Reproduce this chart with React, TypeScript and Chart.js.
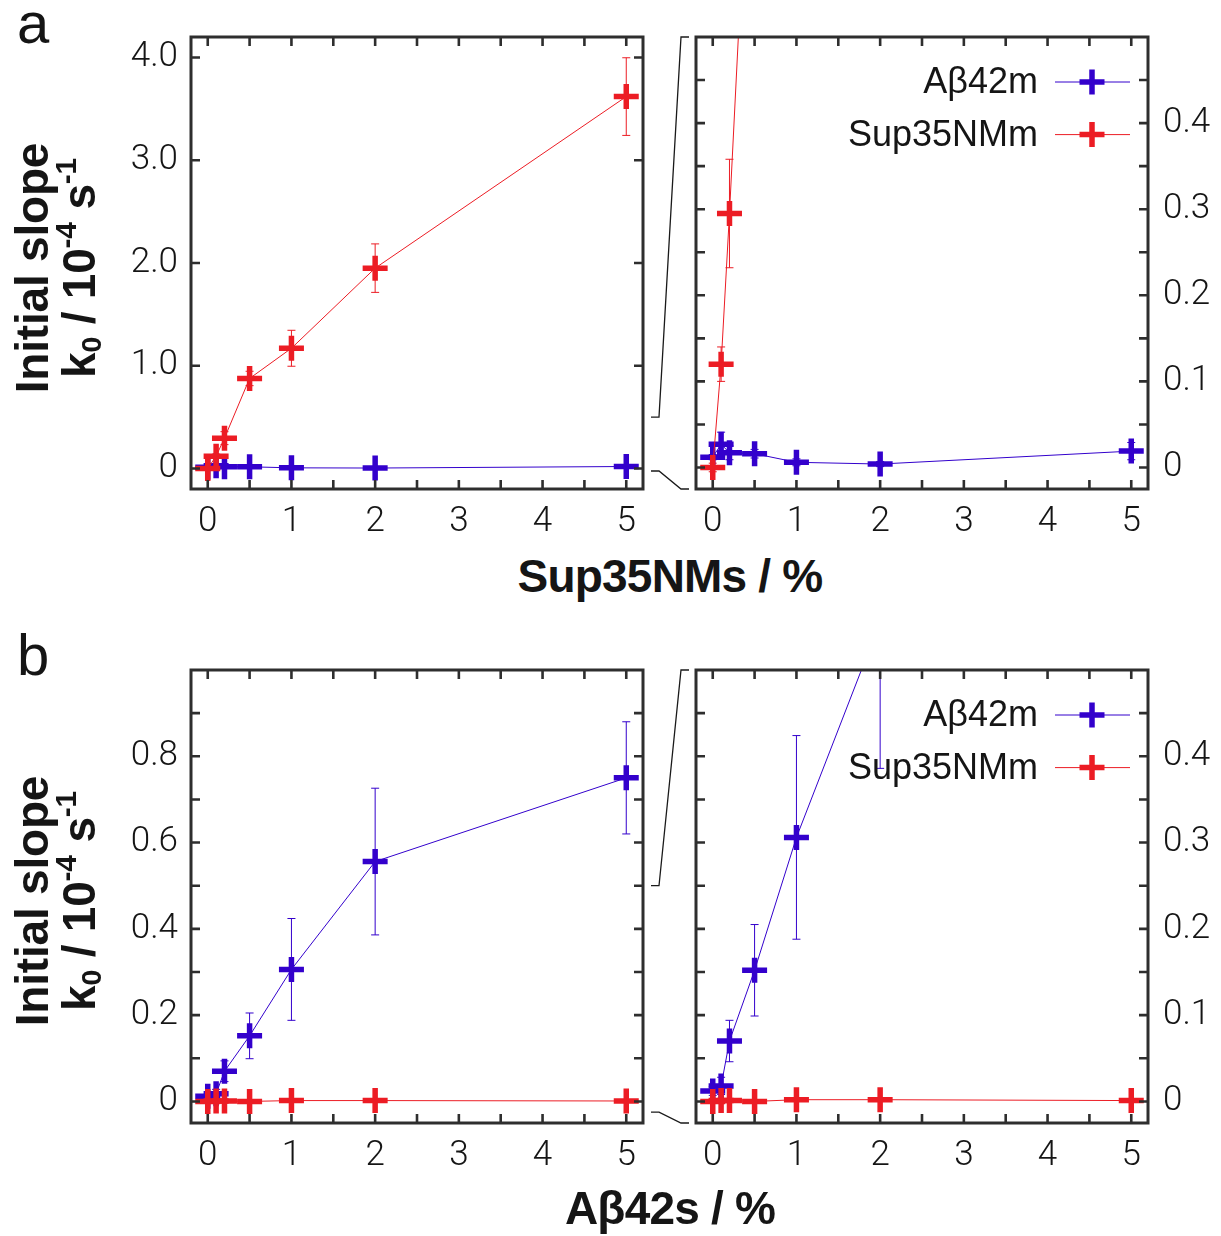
import React, { useEffect, useRef } from 'react';
import { Chart, registerables } from 'chart.js';
Chart.register(...registerables);

// ---------------- data ----------------
const concentrations = [0, 0.1, 0.2, 0.5, 1, 2, 5];
const seriesNames = ['Aβ42m', 'Sup35NMm'];

// panel a: seeds = Sup35NMs
const aAbeta42m = [0.012, 0.027, 0.017, 0.016, 0.006, 0.004, 0.019];
const aAbeta42mErr = [0.003, 0.014, 0.008, 0.005, 0.004, 0.003, 0.01];
const aSup35NMm = [0.0, 0.12, 0.295, 0.876, 1.17, 1.95, 3.62];
const aSup35NMmErr = [0.005, 0.02, 0.063, 0.07, 0.175, 0.236, 0.378];

// panel b: seeds = Aβ42s
const bAbeta42m = [0.012, 0.018, 0.07, 0.152, 0.306, 0.556, 0.75];
const bAbeta42mErr = [0.005, 0.01, 0.024, 0.053, 0.118, 0.17, 0.13];
const bSup35NMm = [0.0, 0.001, 0.001, 0.0, 0.002, 0.002, 0.001];
const bSup35NMmErr = [0.002, 0.002, 0.002, 0.002, 0.002, 0.002, 0.002];

// ticks
const xTickMarks = [0, 0.5, 1, 1.5, 2, 2.5, 3, 3.5, 4, 4.5, 5];
const xLabelValues = [0, 1, 2, 3, 4, 5];
const xLabels = ['0', '1', '2', '3', '4', '5'];

const aLeftYTickMarks = [0, 1, 2, 3, 4];
const aLeftYLabelValues = [0, 1, 2, 3, 4];
const aLeftYLabels = ['0', '1.0', '2.0', '3.0', '4.0'];

const bLeftYTickMarks = [0, 0.1, 0.2, 0.3, 0.4, 0.5, 0.6, 0.7, 0.8, 0.9];
const bLeftYLabelValues = [0, 0.2, 0.4, 0.6, 0.8];
const bLeftYLabels = ['0', '0.2', '0.4', '0.6', '0.8'];

const zoomYTickMarks = [0, 0.05, 0.1, 0.15, 0.2, 0.25, 0.3, 0.35, 0.4, 0.45];
const zoomYLabelValues = [0, 0.1, 0.2, 0.3, 0.4];
const zoomYLabels = ['0', '0.1', '0.2', '0.3', '0.4'];

const X_RANGE = [-0.2, 5.2];
const A_LEFT_Y = [-0.2, 4.2];
const B_LEFT_Y = [-0.05, 1.0];
const ZOOM_Y = [-0.025, 0.5];

// ---------------- styles ----------------
const BLUE = '#3300cc';
const RED = '#ec1c24';
const FRAME = '#2e2e2e';
const TEXT = '#151515';
const TICK_FONT = { family: 'Roboto, "Liberation Sans", Arial, sans-serif', size: 35, weight: '300' as any };
const TICK_LEN = 9;
const MARK_R = 12.5;
const MARK_W = 5.5;

type Series = { label: string; color: string; values: number[]; errors: number[]; order: number };

type PanelProps = {
  rect: [number, number, number, number];
  area: [number, number, number, number];
  side: 'left' | 'right';
  yRange: number[];
  yMarks: number[];
  yLabelValues: number[];
  yLabels: string[];
  series: Series[];
  legend?: boolean;
  zoom?: number[];
};

function labelFor(v: number, vals: number[], labels: string[]) {
  for (let i = 0; i < vals.length; i++) if (Math.abs(vals[i] - v) < 1e-9) return labels[i];
  return '';
}

const frameTicksPlugin = {
  id: 'frameTicks',
  afterDatasetsDraw(chart: any) {
    const { ctx, chartArea: a, scales } = chart;
    ctx.save();
    ctx.strokeStyle = FRAME;
    ctx.lineWidth = 2.6;
    ctx.beginPath();
    for (const t of scales.x.ticks) {
      const px = scales.x.getPixelForValue(t.value);
      ctx.moveTo(px, a.bottom);
      ctx.lineTo(px, a.bottom - TICK_LEN);
      ctx.moveTo(px, a.top);
      ctx.lineTo(px, a.top + TICK_LEN);
    }
    for (const t of scales.y.ticks) {
      const py = scales.y.getPixelForValue(t.value);
      ctx.moveTo(a.left, py);
      ctx.lineTo(a.left + TICK_LEN, py);
      ctx.moveTo(a.right, py);
      ctx.lineTo(a.right - TICK_LEN, py);
    }
    ctx.stroke();
    ctx.lineWidth = 3;
    ctx.strokeRect(a.left, a.top, a.right - a.left, a.bottom - a.top);
    ctx.restore();
  },
};

const errorBarsPlugin = {
  id: 'errorBars',
  beforeDatasetsDraw(chart: any) {
    const { ctx, chartArea: a, scales } = chart;
    ctx.save();
    ctx.beginPath();
    ctx.rect(a.left, a.top, a.right - a.left, a.bottom - a.top);
    ctx.clip();
    ctx.lineWidth = 1;
    chart.data.datasets.forEach((ds: any) => {
      ctx.strokeStyle = ds.borderColor;
      ctx.beginPath();
      ds.data.forEach((p: any, i: number) => {
        const e = ds.errors[i];
        const x = scales.x.getPixelForValue(p.x);
        const y1 = scales.y.getPixelForValue(p.y - e);
        const y2 = scales.y.getPixelForValue(p.y + e);
        ctx.moveTo(x, y1);
        ctx.lineTo(x, y2);
        ctx.moveTo(x - 4, y1);
        ctx.lineTo(x + 4, y1);
        ctx.moveTo(x - 4, y2);
        ctx.lineTo(x + 4, y2);
      });
      ctx.stroke();
    });
    ctx.restore();
  },
};

const legendPlugin = {
  id: 'gpLegend',
  afterDraw(chart: any) {
    const opts = chart.options.plugins.gpLegend;
    if (!opts || !opts.show) return;
    const { ctx, chartArea: a } = chart;
    ctx.save();
    ctx.font = '36px "Liberation Sans", Arial, sans-serif';
    ctx.textAlign = 'right';
    ctx.textBaseline = 'middle';
    chart.data.datasets.forEach((ds: any, i: number) => {
      const y = a.top + 45 + i * 52.6;
      ctx.fillStyle = TEXT;
      ctx.fillText(ds.label, a.right - 110, y + 1);
      ctx.strokeStyle = ds.borderColor;
      ctx.lineWidth = 1;
      ctx.beginPath();
      ctx.moveTo(a.right - 93, y);
      ctx.lineTo(a.right - 18, y);
      ctx.stroke();
      const cx = a.right - 56;
      ctx.lineWidth = MARK_W;
      ctx.beginPath();
      ctx.moveTo(cx - MARK_R, y);
      ctx.lineTo(cx + MARK_R, y);
      ctx.moveTo(cx, y - MARK_R);
      ctx.lineTo(cx, y + MARK_R);
      ctx.stroke();
    });
    ctx.restore();
  },
};

const zoomLinesPlugin = {
  id: 'zoomLines',
  afterDraw(chart: any) {
    const z = chart.options.plugins.zoomLines;
    if (!z || !z.range) return;
    const { ctx, chartArea: a, scales } = chart;
    const yTop = scales.y.getPixelForValue(z.range[1]);
    const yBot = scales.y.getPixelForValue(z.range[0]);
    const r = a.right;
    ctx.save();
    ctx.strokeStyle = '#1a1a1a';
    ctx.lineWidth = 1.3;
    ctx.beginPath();
    ctx.moveTo(r + 8, yTop);
    ctx.lineTo(r + 16, yTop);
    ctx.lineTo(r + 38, a.top);
    ctx.lineTo(r + 46, a.top);
    ctx.moveTo(r + 8, yBot);
    ctx.lineTo(r + 16, yBot);
    ctx.lineTo(r + 38, a.bottom);
    ctx.lineTo(r + 46, a.bottom);
    ctx.stroke();
    ctx.restore();
  },
};

function Panel(props: PanelProps) {
  const ref = useRef<HTMLCanvasElement | null>(null);
  const { rect, area, side } = props;
  useEffect(() => {
    if (!ref.current) return;
    const [L, T, W, H] = rect;
    const [al, at, ar, ab] = area;
    const yAxisWidth = side === 'left' ? al - L : L + W - ar;
    const xAxisHeight = T + H - ab;
    const padding =
      side === 'left'
        ? { left: 0, right: L + W - ar, top: at - T, bottom: 0 }
        : { left: al - L, right: 0, top: at - T, bottom: 0 };

    const datasets = props.series.map((s) => ({
      label: s.label,
      data: concentrations.map((x, i) => ({ x, y: s.values[i] })),
      errors: s.errors,
      borderColor: s.color,
      backgroundColor: s.color,
      borderWidth: 1,
      pointStyle: 'cross',
      pointRadius: MARK_R,
      pointBorderWidth: MARK_W,
      pointBorderColor: s.color,
      pointBackgroundColor: s.color,
      tension: 0,
      order: s.order,
    }));

    const chart = new Chart(ref.current, {
      type: 'line',
      data: { datasets } as any,
      options: {
        responsive: false,
        animation: false,
        devicePixelRatio: 1,
        events: [],
        layout: { padding },
        plugins: {
          legend: { display: false },
          tooltip: { enabled: false },
          gpLegend: { show: !!props.legend },
          zoomLines: { range: props.zoom },
        } as any,
        scales: {
          x: {
            type: 'linear',
            min: X_RANGE[0],
            max: X_RANGE[1],
            grid: { display: false, drawTicks: false },
            border: { display: false },
            afterBuildTicks: (s: any) => {
              s.ticks = xTickMarks.map((v) => ({ value: v }));
            },
            afterFit: (s: any) => {
              s.height = xAxisHeight;
            },
            ticks: {
              autoSkip: false,
              maxRotation: 0,
              minRotation: 0,
              padding: 12,
              color: TEXT,
              font: TICK_FONT,
              callback: (v: any) => labelFor(Number(v), xLabelValues, xLabels),
            },
          },
          y: {
            type: 'linear',
            position: side,
            min: props.yRange[0],
            max: props.yRange[1],
            grid: { display: false, drawTicks: false },
            border: { display: false },
            afterBuildTicks: (s: any) => {
              s.ticks = props.yMarks.map((v) => ({ value: v }));
            },
            afterFit: (s: any) => {
              s.width = yAxisWidth;
            },
            ticks: {
              autoSkip: false,
              padding: side === 'left' ? 13 : 15,
              color: TEXT,
              font: TICK_FONT,
              callback: (v: any) => labelFor(Number(v), props.yLabelValues, props.yLabels),
            },
          },
        } as any,
      },
      plugins: [errorBarsPlugin, frameTicksPlugin, legendPlugin, zoomLinesPlugin],
    });
    return () => chart.destroy();
  }, []);
  return (
    <canvas
      ref={ref}
      width={rect[2]}
      height={rect[3]}
      style={{ position: 'absolute', left: rect[0], top: rect[1], width: rect[2], height: rect[3] }}
    />
  );
}

const titleFont = '"Liberation Sans", Arial, Helvetica, sans-serif';
const supStyle: React.CSSProperties = { fontSize: '0.65em', verticalAlign: '0.62em', lineHeight: 0 };
const subStyle: React.CSSProperties = { fontSize: '0.62em', verticalAlign: '-0.22em', lineHeight: 0 };

function YTitle({ cy }: { cy: number }) {
  const cx = 56;
  return (
    <div
      style={{
        position: 'absolute',
        left: cx - 170,
        top: cy - 47,
        width: 340,
        height: 94,
        transform: 'rotate(-90deg)',
        transformOrigin: '50% 50%',
        fontFamily: titleFont,
        fontWeight: 'bold',
        fontSize: 46,
        lineHeight: '47px',
        textAlign: 'center',
        color: TEXT,
        whiteSpace: 'nowrap',
        letterSpacing: '-0.2px',
      }}
    >
      <div>Initial slope</div>
      <div>
        k<sub style={subStyle}>0</sub> / 10<sup style={supStyle}>-4</sup> s<sup style={supStyle}>-1</sup>
      </div>
    </div>
  );
}

function XTitle({ top, children }: { top: number; children: React.ReactNode }) {
  return (
    <div
      style={{
        position: 'absolute',
        left: 170,
        top,
        width: 1000,
        textAlign: 'center',
        fontFamily: titleFont,
        fontWeight: 'bold',
        fontSize: 46,
        lineHeight: '47px',
        letterSpacing: '-0.8px',
        color: TEXT,
        whiteSpace: 'nowrap',
      }}
    >
      {children}
    </div>
  );
}

function PanelLabel({ top, text }: { top: number; text: string }) {
  return (
    <div
      style={{
        position: 'absolute',
        left: 17,
        top,
        fontFamily: titleFont,
        fontSize: 58,
        lineHeight: '58px',
        color: TEXT,
      }}
    >
      {text}
    </div>
  );
}

export default function App() {
  const seriesA: Series[] = [
    { label: seriesNames[0], color: BLUE, values: aAbeta42m, errors: aAbeta42mErr, order: 1 },
    { label: seriesNames[1], color: RED, values: aSup35NMm, errors: aSup35NMmErr, order: 0 },
  ];
  const seriesB: Series[] = [
    { label: seriesNames[0], color: BLUE, values: bAbeta42m, errors: bAbeta42mErr, order: 1 },
    { label: seriesNames[1], color: RED, values: bSup35NMm, errors: bSup35NMmErr, order: 0 },
  ];
  return (
    <div style={{ position: 'absolute', left: 0, top: 0, width: 1221, height: 1236, background: '#fff', overflow: 'hidden' }}>
      <Panel
        rect={[100, 0, 592, 550]}
        area={[191, 37, 643, 489]}
        side="left"
        yRange={A_LEFT_Y}
        yMarks={aLeftYTickMarks}
        yLabelValues={aLeftYLabelValues}
        yLabels={aLeftYLabels}
        series={seriesA}
        zoom={ZOOM_Y}
      />
      <Panel
        rect={[676, 0, 545, 550]}
        area={[696, 37, 1148, 489]}
        side="right"
        yRange={ZOOM_Y}
        yMarks={zoomYTickMarks}
        yLabelValues={zoomYLabelValues}
        yLabels={zoomYLabels}
        series={seriesA}
        legend
      />
      <Panel
        rect={[100, 633, 592, 550]}
        area={[191, 670, 643, 1123]}
        side="left"
        yRange={B_LEFT_Y}
        yMarks={bLeftYTickMarks}
        yLabelValues={bLeftYLabelValues}
        yLabels={bLeftYLabels}
        series={seriesB}
        zoom={ZOOM_Y}
      />
      <Panel
        rect={[676, 633, 545, 550]}
        area={[696, 670, 1148, 1123]}
        side="right"
        yRange={ZOOM_Y}
        yMarks={zoomYTickMarks}
        yLabelValues={zoomYLabelValues}
        yLabels={zoomYLabels}
        series={seriesB}
        legend
      />
      <YTitle cy={268} />
      <YTitle cy={901} />
      <XTitle top={553}>Sup35NMs / %</XTitle>
      <XTitle top={1185}>Aβ42s / %</XTitle>
      <PanelLabel top={-6} text="a" />
      <PanelLabel top={626} text="b" />
    </div>
  );
}
